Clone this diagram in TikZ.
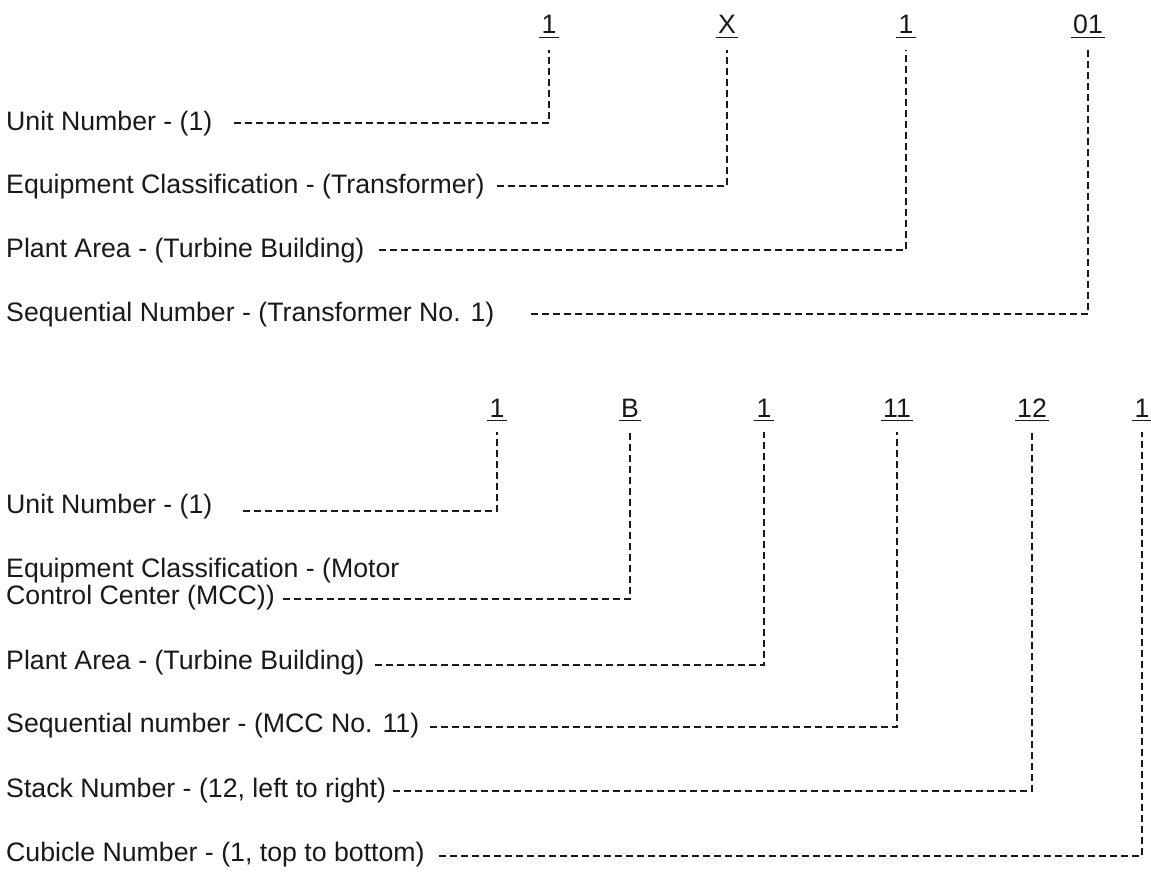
\documentclass[tikz,border=0pt]{standalone}
\usepackage{fontspec}
\setmainfont{Liberation Sans}
\begin{document}
\begin{tikzpicture}[x=1pt,y=-1pt,
  lbl/.style={anchor=base west, inner sep=0pt, font=\fontsize{26.7}{27}\selectfont, text=black!90},
  hdr/.style={anchor=base, inner xsep=2pt, inner ysep=0pt, text depth=0pt, font=\fontsize{26.7}{27}\selectfont, text=black!90},
  conn/.style={line width=1.9pt, dash pattern=on 7pt off 4pt, black!90},
  uln/.style={line width=1.8pt, black!90}]
\useasboundingbox (0,0) rectangle (1151,872);

% ---- top code: 1 X 1 01 ----
\node[hdr] (t1) at (549,34) {1};
\node[hdr] (t2) at (727,34) {X};
\node[hdr] (t3) at (906,34) {1};
\node[hdr] (t4) at (1088,34) {01};

\node[lbl] (l1) at (6,131) {Unit Number - (1)};
\node[lbl] (l2) at (6,193) {Equipment Classification - (Transformer)};
\node[lbl] (l3) at (6,257) {Plant Area - (Turbine Building)};
\node[lbl] (l4) at (6,321) {Sequential Number - (Transformer No. 1)};

\coordinate (s1) at (234,123);
\coordinate (s2) at (497,186);
\coordinate (s3) at (379,250);
\coordinate (s4) at (531,314);

\draw[conn] (s1) -| ([yshift=-16pt]t1.base);
\draw[conn] (s2) -| ([yshift=-16pt]t2.base);
\draw[conn] (s3) -| ([yshift=-16pt]t3.base);
\draw[conn] (s4) -| ([yshift=-16pt]t4.base);

% ---- bottom code: 1 B 1 11 12 1 ----
\node[hdr] (b1) at (497,417) {1};
\node[hdr] (b2) at (630,417) {B};
\node[hdr] (b3) at (764,417) {1};
\node[hdr] (b4) at (897,417) {11};
\node[hdr] (b5) at (1032,417) {12};
\node[hdr] (b6) at (1142,417) {1};

\node[lbl] (m1) at (6,513) {Unit Number - (1)};
\node[lbl] (m2a) at (6,577) {Equipment Classification - (Motor};
\node[lbl] (m2b) at (6,604) {Control Center (MCC))};
\node[lbl] (m3) at (6,669) {Plant Area - (Turbine Building)};
\node[lbl] (m4) at (6,732) {Sequential number - (MCC No. 11)};
\node[lbl] (m5) at (6,797) {Stack Number - (12, left to right)};
\node[lbl] (m6) at (6,861) {Cubicle Number - (1, top to bottom)};

\coordinate (r1) at (243,511);
\coordinate (r2) at (283,599);
\coordinate (r3) at (375,665);
\coordinate (r4) at (430,727);
\coordinate (r5) at (393,791);
\coordinate (r6) at (439,856);

\draw[conn] (r1) -| ([yshift=-15pt]b1.base);
\draw[conn] (r2) -| ([yshift=-15pt]b2.base);
\draw[conn] (r3) -| ([yshift=-15pt]b3.base);
\draw[conn] (r4) -| ([yshift=-15pt]b4.base);
\draw[conn] (r5) -| ([yshift=-15pt]b5.base);
\draw[conn] (r6) -| ([yshift=-15pt]b6.base);

% underlines of the code characters
\foreach \n in {t1,t2,t3,t4,b1,b2,b3,b4,b5,b6}
  \draw[uln] ([yshift=-3.5pt]\n.base west) -- ([yshift=-3.5pt]\n.base east);
\end{tikzpicture}
\end{document}
